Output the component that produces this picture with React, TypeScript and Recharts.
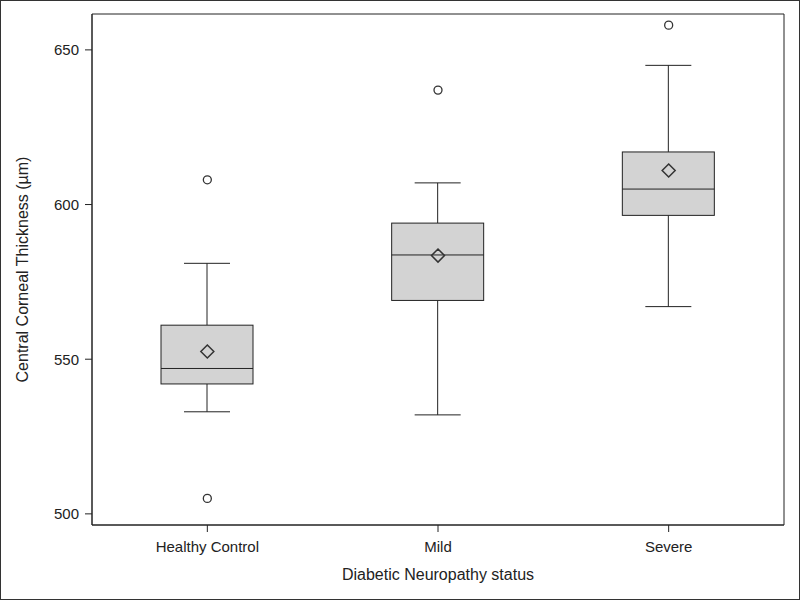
import { ComposedChart, Bar, Scatter, XAxis, YAxis, Label, ReferenceArea } from 'recharts';

const categories = ['Healthy Control', 'Mild', 'Severe'];
const whiskerLow = [533, 532, 567];
const q1 = [542, 569, 596.5];
const median = [547, 583.7, 605];
const q3 = [561, 594, 617];
const whiskerHigh = [581, 607, 645];
const means = [552.5, 583.5, 611];
const outlierHigh = [608, 637, 658];
const outlierLow = [505, null, null];
const yTicks = [500, 550, 600, 650];
const yDomain = [496.4, 661.6];

const INK = '#222';
const FONT = '"Liberation Sans", Arial, sans-serif';

const data = categories.map((name, i) => ({
  name,
  low: whiskerLow[i],
  q1: q1[i],
  median: median[i],
  q3: q3[i],
  high: whiskerHigh[i],
  mean: means[i],
  outHigh: outlierHigh[i],
  outLow: outlierLow[i],
}));

// box + whiskers, positioned from the bar that spans low..high
const BoxShape = (props: any) => {
  const { x, y, width, height, payload } = props;
  const top = Math.min(y, y + height);
  const bottom = Math.max(y, y + height);
  const span = payload.high - payload.low;
  const py = (v: number) => top + ((payload.high - v) / span) * (bottom - top);
  const cx = x + width / 2;
  const cap = width / 4;
  return (
    <g stroke={INK} strokeWidth={1}>
      <line x1={cx} x2={cx} y1={py(payload.high)} y2={py(payload.q3)} />
      <line x1={cx} x2={cx} y1={py(payload.q1)} y2={py(payload.low)} />
      <line x1={cx - cap} x2={cx + cap} y1={py(payload.high)} y2={py(payload.high)} />
      <line x1={cx - cap} x2={cx + cap} y1={py(payload.low)} y2={py(payload.low)} />
      <rect x={x} y={py(payload.q3)} width={width} height={py(payload.q1) - py(payload.q3)} fill="#d3d3d3" />
      <line x1={x} x2={x + width} y1={py(payload.median)} y2={py(payload.median)} />
    </g>
  );
};

const Diamond = (props: any) => {
  const { cx, cy } = props;
  if (!Number.isFinite(cx) || !Number.isFinite(cy)) return null;
  const r = 6.5;
  return (
    <path
      d={`M${cx},${cy - r}L${cx + r},${cy}L${cx},${cy + r}L${cx - r},${cy}Z`}
      fill="none"
      stroke="#333"
      strokeWidth={1.5}
    />
  );
};

const Circle = (props: any) => {
  const { cx, cy } = props;
  if (!Number.isFinite(cx) || !Number.isFinite(cy)) return null;
  return <circle cx={cx} cy={cy} r={4} fill="none" stroke="#333" strokeWidth={1.3} />;
};

export default function App() {
  return (
    <div
      style={{
        position: 'absolute',
        left: 0,
        top: 0,
        width: 800,
        height: 600,
        boxSizing: 'border-box',
        border: '1px solid #333',
        background: '#fff',
        fontFamily: FONT,
      }}
    >
      <ComposedChart
        width={798}
        height={598}
        data={data}
        margin={{ top: 13, right: 15, bottom: 0, left: 0 }}
        style={{ fontFamily: FONT }}
      >
        <ReferenceArea y1={yDomain[0]} y2={yDomain[1]} fill="none" stroke={INK} strokeWidth={1} ifOverflow="visible" />
        <XAxis
          dataKey="name"
          height={74}
          stroke={INK}
          tickSize={7}
          tickMargin={9}
          tick={{ fill: '#222', fontSize: 15 }}
        >
          <Label
            content={(p: any) => (
              <text
                x={p.viewBox.x + p.viewBox.width / 2}
                y={p.viewBox.y + 55}
                textAnchor="middle"
                fontSize={16}
                fill="#222"
              >
                Diabetic Neuropathy status
              </text>
            )}
          />
        </XAxis>
        <YAxis
          type="number"
          domain={yDomain}
          ticks={yTicks}
          allowDataOverflow
          width={91}
          stroke={INK}
          tickSize={7}
          tickMargin={6}
          tick={{ fill: '#222', fontSize: 15 }}
        >
          <Label
            content={(p: any) => {
              const lx = p.viewBox.x + 27;
              const ly = p.viewBox.y + p.viewBox.height / 2;
              return (
                <text x={lx} y={ly} transform={`rotate(-90, ${lx}, ${ly})`} textAnchor="middle" fontSize={16} fill="#222">
                  Central Corneal Thickness (µm)
                </text>
              );
            }}
          />
        </YAxis>
        <Bar dataKey={(d: any) => [d.low, d.high]} barSize={92} shape={<BoxShape />} isAnimationActive={false} />
        <Scatter dataKey="mean" shape={<Diamond />} isAnimationActive={false} />
        <Scatter dataKey="outHigh" shape={<Circle />} isAnimationActive={false} />
        <Scatter dataKey="outLow" shape={<Circle />} isAnimationActive={false} />
      </ComposedChart>
    </div>
  );
}
